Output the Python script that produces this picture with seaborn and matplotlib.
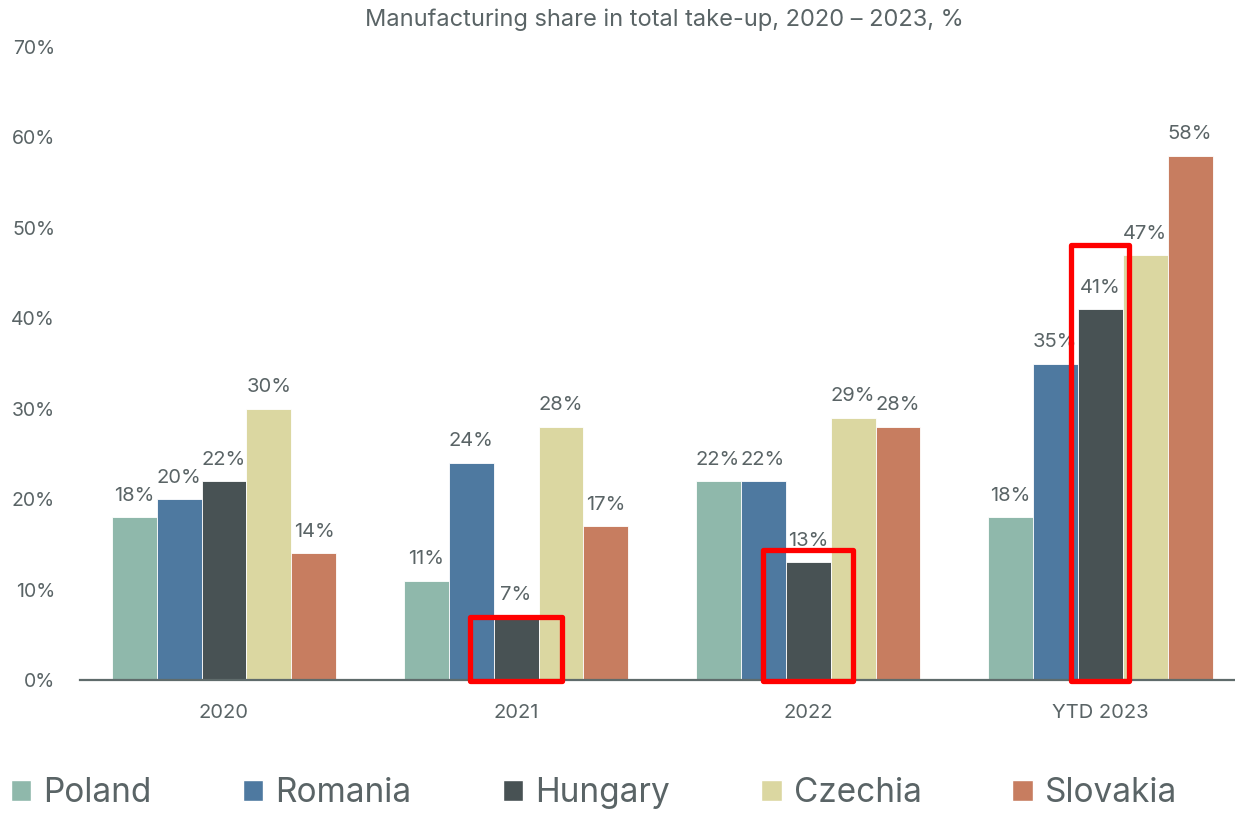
import matplotlib
matplotlib.use("Agg")
import matplotlib.pyplot as plt
import seaborn as sns
import pandas as pd
from matplotlib.patches import Rectangle, Patch

# ---- data ----
periods = ["2020", "2021", "2022", "YTD 2023"]
countries = ["Poland", "Romania", "Hungary", "Czechia", "Slovakia"]
poland = [18, 11, 22, 18]
romania = [20, 24, 22, 35]
hungary = [22, 7, 13, 41]
czechia = [30, 28, 29, 47]
slovakia = [14, 17, 28, 58]
yticks = [0, 10, 20, 30, 40, 50, 60, 70]
title = "Manufacturing share in total take-up, 2020 \u2013 2023, %"

# highlighted Hungary bars (period index, box top in %)
highlight_periods = [1, 2, 3]
highlight_tops = [7.0, 14.4, 48.1]
highlight_widths = [0.315, 0.308, 0.2]

palette = ["#8fb8ab", "#4e79a0", "#485254", "#dbd7a1", "#c77d60"]
text_color = "#5a6466"

rows = []
for c, vals in zip(countries, [poland, romania, hungary, czechia, slovakia]):
    for p, v in zip(periods, vals):
        rows.append({"period": p, "country": c, "value": v})
df = pd.DataFrame(rows)

sns.set_theme(style="white")
plt.rcParams["font.family"] = ["Inter", "DejaVu Sans"]

fig = plt.figure(figsize=(12.35, 8.14), dpi=100)
ax = fig.add_axes([0.0648, 0.1646, 0.9352, 0.7776])

sns.barplot(data=df, x="period", y="value", hue="country", order=periods,
            hue_order=countries, palette=palette, width=0.77, ax=ax,
            edgecolor="white", linewidth=0.6, legend=False, saturation=1)

for cont in ax.containers:
    ax.bar_label(cont, labels=[f"{v:.0f}%" for v in cont.datavalues],
                 padding=9, fontsize=14.5, color=text_color)

ax.set_ylim(0, 70)
ax.set_xlim(-0.493, 3.462)
ax.set_yticks(yticks)
ax.set_yticklabels([f"{t}%" for t in yticks])
ax.set_xlabel("")
ax.set_ylabel("")
ax.tick_params(axis="y", length=0, pad=18, labelsize=14, labelcolor=text_color)
ax.tick_params(axis="x", length=0, pad=17, labelsize=14.5, labelcolor=text_color)
for s in ["top", "right", "left"]:
    ax.spines[s].set_visible(False)
ax.spines["bottom"].set_color("#5f6b6b")
ax.spines["bottom"].set_linewidth(1.6)

for p, top, w in zip(highlight_periods, highlight_tops, highlight_widths):
    ax.add_patch(Rectangle((p - w / 2, -0.1), w, top + 0.1, fill=False,
                           edgecolor="#ff0000", linewidth=3.8, zorder=5,
                           clip_on=False, joinstyle="round"))

fig.text(0.538, 0.976, title, ha="center", va="center", fontsize=17,
         color=text_color)

handles = [Patch(facecolor=c, edgecolor="white", label=n)
           for c, n in zip(palette, countries)]
fig.legend(handles=handles, loc="lower center", bbox_to_anchor=(0.481, -0.031),
           ncol=5, frameon=False, fontsize=24, labelcolor=text_color,
           handlelength=0.62, handleheight=0.62, handletextpad=0.36,
           columnspacing=2.73)

fig.savefig("out.png", dpi=100)
